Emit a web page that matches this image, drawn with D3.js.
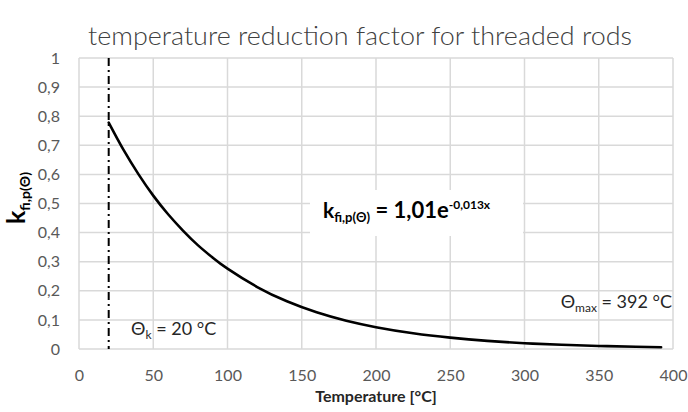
<!DOCTYPE html>
<html><head><meta charset="utf-8">
<script src="https://cdn.jsdelivr.net/npm/d3@7"></script>
<style>body{margin:0;background:#fff}svg{display:block}</style>
</head><body>
<svg id="c" width="688" height="412"></svg>
<script>
const temperatures = [20,30,40,50,60,70,80,90,100,120,140,160,180,200,225,250,275,300,325,350,375,392];
const kValues = [0.778,0.684,0.601,0.527,0.463,0.407,0.357,0.314,0.276,0.213,0.164,0.126,0.097,0.075,0.054,0.039,0.028,0.020,0.0145,0.0105,0.0076,0.0062];
const xTicks = [0,50,100,150,200,250,300,350,400];
const yTicks = [0,0.1,0.2,0.3,0.4,0.5,0.6,0.7,0.8,0.9,1];
const thetaK = 20;
const thetaMax = 392;
const titleText = "temperature reduction factor for threaded rods";
const xTitle = "Temperature [°C]";

const svg = d3.select("#c");
const FONT = "Lato, 'Open Sans', sans-serif";
const x = d3.scaleLinear().domain([0,400]).range([79,673]);
const y = d3.scaleLinear().domain([0,1]).range([349,58]);
const fmt = v => String(+v.toFixed(1)).replace(".", ",");

// gridlines
svg.append("g").selectAll("line").data(yTicks).join("line")
  .attr("x1", x(0)).attr("x2", x(400)).attr("y1", d=>y(d)).attr("y2", d=>y(d))
  .attr("stroke", "#d9d9d9").attr("stroke-width", 1.5);
svg.append("g").selectAll("line").data(xTicks).join("line")
  .attr("y1", y(0)).attr("y2", y(1)).attr("x1", d=>x(d)).attr("x2", d=>x(d))
  .attr("stroke", "#d9d9d9").attr("stroke-width", 1.5);

// axes labels via d3 axes
const yAxis = svg.append("g").attr("transform", `translate(${x(0)-16},0)`)
  .call(d3.axisLeft(y).tickValues(yTicks).tickFormat(fmt).tickSize(0));
yAxis.select(".domain").remove();
yAxis.selectAll("text").attr("font-family", FONT).attr("font-size", 16).attr("fill", "#595959");

const xAxis = svg.append("g").attr("transform", `translate(0,${y(0)+18})`)
  .call(d3.axisBottom(x).tickValues(xTicks).tickFormat(d=>d).tickSize(0));
xAxis.select(".domain").remove();
xAxis.selectAll("text").attr("font-family", FONT).attr("font-size", 16).attr("fill", "#595959");

// dash-dot line at theta_k
svg.append("line").attr("x1", x(thetaK)).attr("x2", x(thetaK)).attr("y1", y(1)).attr("y2", y(0))
  .attr("stroke", "#000").attr("stroke-width", 2).attr("stroke-dasharray", "8,4,2,4");

// white box behind equation
svg.append("rect").attr("x", 310).attr("y", 190).attr("width", 213).attr("height", 46).attr("fill", "#fff");

// curve
const line = d3.line().x((d,i)=>x(temperatures[i])).y(d=>y(d)).curve(d3.curveNatural);
svg.append("path").datum(kValues).attr("d", line).attr("fill", "none")
  .attr("stroke", "#000").attr("stroke-width", 2.6).attr("stroke-linecap", "round");

// title
svg.append("text").attr("x", 360).attr("y", 45).attr("text-anchor", "middle")
  .attr("font-family", FONT).attr("font-size", 26).attr("font-weight", 300).attr("fill", "#404040")
  .attr("textLength", 544).attr("lengthAdjust", "spacingAndGlyphs").text(titleText);

// x title
svg.append("text").attr("x", 376).attr("y", 402).attr("text-anchor", "middle")
  .attr("font-family", FONT).attr("font-size", 16).attr("font-weight", "bold").attr("fill", "#262626").text(xTitle);

// y title
const yt = svg.append("text").attr("transform", "translate(25,198) rotate(-90)").attr("text-anchor", "middle")
  .attr("font-family", FONT).attr("font-weight", "bold").attr("fill", "#000");
yt.append("tspan").attr("font-size", 25).text("k");
yt.append("tspan").attr("font-size", 14).attr("dy", 5).text("fi,p(Θ)");

// equation
const eq = svg.append("text").attr("x", 323).attr("y", 218).attr("font-family", FONT)
  .attr("font-weight", "bold").attr("fill", "#000");
eq.append("tspan").attr("font-size", 21).text("k");
eq.append("tspan").attr("font-size", 13).attr("dy", 4).text("fi,p(Θ)");
eq.append("tspan").attr("font-size", 22).attr("dy", -4).text(" = 1,01e");
eq.append("tspan").attr("font-size", 12).attr("dy", -9).text("-0,013x");

// theta_k label
const tk = svg.append("text").attr("x", 131).attr("y", 335).attr("font-family", FONT).attr("fill", "#262626");
tk.append("tspan").attr("font-size", 18).text("Θ");
tk.append("tspan").attr("font-size", 12).attr("dy", 4).text("k");
tk.append("tspan").attr("font-size", 18).attr("dy", -4).text(" = " + thetaK + " °C");

// theta_max label
const tm = svg.append("text").attr("x", 672).attr("y", 308).attr("text-anchor", "end").attr("font-family", FONT).attr("fill", "#262626");
tm.append("tspan").attr("font-size", 18).text("Θ");
tm.append("tspan").attr("font-size", 12).attr("dy", 4).text("max");
tm.append("tspan").attr("font-size", 18).attr("dy", -4).text(" = " + thetaMax + " °C");
</script>
</body></html>
